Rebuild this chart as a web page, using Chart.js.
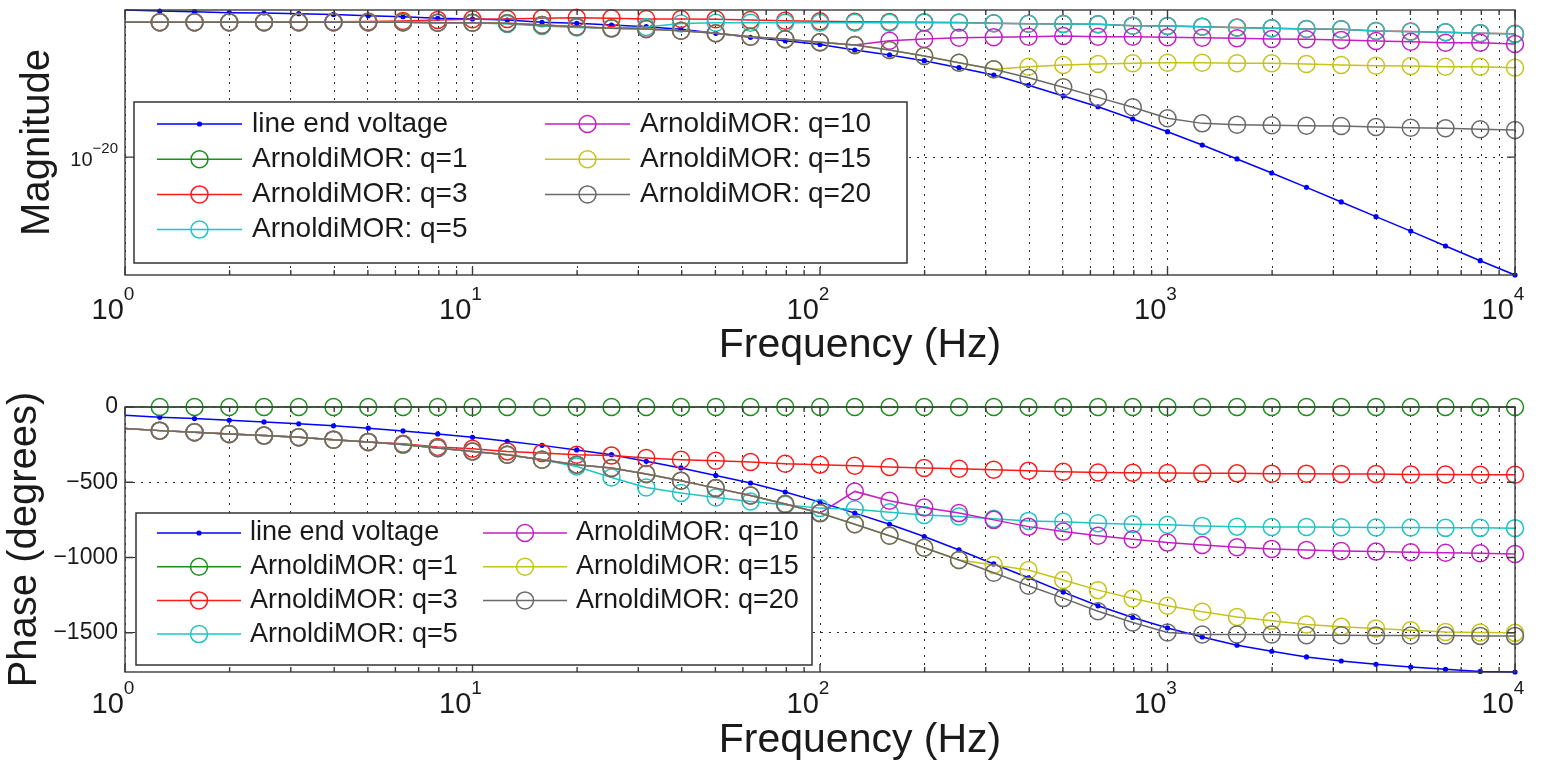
<!DOCTYPE html>
<html>
<head>
<meta charset="utf-8">
<script src="https://cdn.jsdelivr.net/npm/chart.js@4.4.1/dist/chart.umd.min.js"></script>
<style>
  html, body { margin: 0; padding: 0; background: #fff; }
  body { width: 1553px; height: 765px; position: relative; overflow: hidden; }
  .panel { position: absolute; left: 0; width: 1553px; }
  #magPanel { top: 0; height: 382px; }
  #phasePanel { top: 382px; height: 383px; }
</style>
</head>
<body>
<div class="panel" id="magPanel"><canvas id="magChart" width="1553" height="382"></canvas></div>
<div class="panel" id="phasePanel"><canvas id="phaseChart" width="1553" height="383"></canvas></div>
<script>
// frequency samples (Hz), 10 per decade
const freqs = [1, 1.259, 1.585, 1.995, 2.512, 3.162, 3.981, 5.012, 6.310, 7.943,
  10, 12.59, 15.85, 19.95, 25.12, 31.62, 39.81, 50.12, 63.10, 79.43,
  100, 125.9, 158.5, 199.5, 251.2, 316.2, 398.1, 501.2, 631.0, 794.3,
  1000, 1259, 1585, 1995, 2512, 3162, 3981, 5012, 6310, 7943, 10000];

const seriesNames = ['line end voltage', 'ArnoldiMOR: q=1', 'ArnoldiMOR: q=3', 'ArnoldiMOR: q=5',
  'ArnoldiMOR: q=10', 'ArnoldiMOR: q=15', 'ArnoldiMOR: q=20'];

// magnitude
const lineEndMag = [1.26e-9, 1.06e-9, 9.4e-10, 7.9e-10, 7.5e-10, 6.6e-10, 5.8e-10, 4.7e-10, 3.9e-10, 3.0e-10,
  2.64e-10, 2.21e-10, 1.49e-10, 1.25e-10, 9.3e-11, 6.9e-11, 4.4e-11, 2.2e-11, 1.10e-11, 6.1e-12,
  3.2e-12, 1.20e-12, 5.1e-13, 1.88e-13, 5.6e-14, 1.56e-14, 2.6e-15, 4.1e-16, 6.3e-17, 7.5e-18,
  8.2e-19, 8.1e-20, 7.2e-21, 6.3e-22, 5.2e-23, 4.1e-24, 3.2e-25, 2.6e-26, 1.95e-27, 1.51e-28, 1.26e-29];
// q=1 has no visible magnitude trace on this axis
const q1Mag = [null, null, null, null, null, null, null, null, null, null,
  null, null, null, null, null, null, null, null, null, null,
  null, null, null, null, null, null, null, null, null, null,
  null, null, null, null, null, null, null, null, null, null, null];
const q3Mag = [1.49e-10, 1.49e-10, 1.49e-10, 1.49e-10, 1.56e-10, 1.65e-10, 1.65e-10, 1.71e-10, 1.86e-10, 2.21e-10,
  2.5e-10, 2.64e-10, 3.0e-10, 3.3e-10, 3.0e-10, 2.64e-10, 2.64e-10, 2.5e-10, 2.21e-10, 1.96e-10,
  1.77e-10, 1.65e-10, 1.60e-10, 1.52e-10, 1.45e-10, 1.27e-10, 1.17e-10, 1.11e-10, 1.06e-10, 8.3e-11,
  7.9e-11, 7.0e-11, 5.9e-11, 5.3e-11, 4.7e-11, 4.5e-11, 3.3e-11, 2.95e-11, 2.65e-11, 2.25e-11, 2.0e-11];
const q5Mag = [1.49e-10, 1.49e-10, 1.49e-10, 1.49e-10, 1.49e-10, 1.49e-10, 1.49e-10, 1.49e-10, 1.49e-10, 1.39e-10,
  1.39e-10, 1.10e-10, 7.8e-11, 6.0e-11, 5.2e-11, 6.6e-11, 1.21e-10, 1.39e-10, 1.39e-10, 1.39e-10,
  1.39e-10, 1.39e-10, 1.39e-10, 1.39e-10, 1.39e-10, 1.25e-10, 1.16e-10, 1.10e-10, 1.05e-10, 8.2e-11,
  7.8e-11, 6.9e-11, 5.8e-11, 5.2e-11, 4.6e-11, 4.4e-11, 3.27e-11, 2.9e-11, 2.6e-11, 2.2e-11, 1.95e-11];
const q10Mag = [1.49e-10, 1.49e-10, 1.49e-10, 1.49e-10, 1.49e-10, 1.49e-10, 1.49e-10, 1.49e-10, 1.49e-10, 1.39e-10,
  1.39e-10, 1.25e-10, 9.3e-11, 6.9e-11, 5.2e-11, 4.6e-11, 3.45e-11, 2.2e-11, 1.22e-11, 7.7e-12,
  4.6e-12, 2.87e-12, 6.1e-12, 8.1e-12, 1.02e-11, 1.10e-11, 1.22e-11, 1.37e-11, 1.22e-11, 1.22e-11,
  1.10e-11, 1.02e-11, 9.2e-12, 8.1e-12, 7.7e-12, 6.9e-12, 5.8e-12, 5.1e-12, 4.3e-12, 4.3e-12, 3.4e-12];
const q15Mag = [1.49e-10, 1.49e-10, 1.49e-10, 1.49e-10, 1.49e-10, 1.49e-10, 1.49e-10, 1.49e-10, 1.49e-10, 1.39e-10,
  1.39e-10, 1.25e-10, 9.3e-11, 6.9e-11, 5.2e-11, 4.6e-11, 3.45e-11, 2.2e-11, 1.22e-11, 7.7e-12,
  4.6e-12, 2.87e-12, 1.20e-12, 4.2e-13, 1.33e-13, 4.2e-14, 6.6e-14, 8.9e-14, 1.06e-13, 1.19e-13,
  1.33e-13, 1.33e-13, 1.19e-13, 1.19e-13, 1.06e-13, 8.9e-14, 7.9e-14, 7.5e-14, 6.6e-14, 6.6e-14, 5.6e-14];
const q20Mag = [1.49e-10, 1.49e-10, 1.49e-10, 1.49e-10, 1.49e-10, 1.49e-10, 1.49e-10, 1.49e-10, 1.49e-10, 1.39e-10,
  1.39e-10, 1.25e-10, 9.3e-11, 6.9e-11, 5.2e-11, 4.6e-11, 3.45e-11, 2.2e-11, 1.22e-11, 7.7e-12,
  4.6e-12, 2.87e-12, 1.20e-12, 4.2e-13, 1.33e-13, 4.2e-14, 9.8e-15, 1.85e-15, 3.2e-16, 5.7e-17,
  8.4e-18, 3.5e-18, 2.8e-18, 2.5e-18, 2.33e-18, 2.21e-18, 1.86e-18, 1.65e-18, 1.49e-18, 1.25e-18, 1.10e-18];

// phase (degrees)
const lineEndPhase = [-55, -68, -77, -88, -99, -112, -125, -141, -159, -179,
  -201, -228, -255, -285, -317, -361, -405, -455, -505, -565,
  -632, -705, -779, -861, -950, -1043, -1135, -1230, -1321, -1399,
  -1468, -1528, -1583, -1623, -1661, -1688, -1710, -1728, -1743, -1757, -1761];
const q1Phase = [0, 0, 0, 0, 0, 0, 0, 0, 0, 0,
  0, 0, 0, 0, 0, 0, 0, 0, 0, 0,
  0, 0, 0, 0, 0, 0, 0, 0, 0, 0,
  0, 0, 0, 0, 0, 0, 0, 0, 0, 0, 0];
const q3Phase = [-143, -157, -168, -179, -190, -201, -217, -232, -245, -265,
  -277, -295, -305, -317, -323, -339, -350, -357, -365, -377,
  -383, -390, -399, -405, -410, -417, -423, -430, -435, -437,
  -439, -441, -441, -443, -443, -445, -445, -448, -448, -450, -450];
const q5Phase = [-143, -157, -168, -179, -190, -201, -217, -232, -250, -272,
  -295, -317, -350, -395, -468, -535, -572, -601, -628, -650,
  -672, -679, -699, -717, -728, -743, -757, -763, -772, -779,
  -783, -790, -795, -797, -797, -799, -801, -801, -803, -803, -805];
const q10Phase = [-143, -157, -168, -179, -190, -201, -217, -232, -250, -272,
  -295, -317, -350, -383, -405, -445, -490, -539, -588, -645,
  -705, -561, -623, -668, -705, -750, -795, -828, -855, -879,
  -901, -917, -932, -943, -950, -957, -961, -965, -968, -972, -977];
const q15Phase = [-143, -157, -168, -179, -190, -201, -217, -232, -250, -272,
  -295, -317, -350, -383, -405, -445, -490, -539, -588, -645,
  -705, -779, -855, -935, -1017, -1050, -1083, -1150, -1217, -1272,
  -1321, -1361, -1395, -1421, -1445, -1461, -1472, -1483, -1495, -1499, -1501];
const q20Phase = [-143, -157, -168, -179, -190, -201, -217, -232, -250, -272,
  -295, -317, -350, -383, -405, -445, -490, -539, -588, -645,
  -705, -779, -855, -935, -1017, -1101, -1188, -1270, -1357, -1432,
  -1499, -1512, -1512, -1512, -1517, -1517, -1519, -1519, -1519, -1521, -1521];

// ticks
const freqGrid = [1, 2, 3, 4, 5, 6, 7, 8, 9, 10, 20, 30, 40, 50, 60, 70, 80, 90,
  100, 200, 300, 400, 500, 600, 700, 800, 900, 1000, 2000, 3000, 4000, 5000, 6000, 7000, 8000, 9000, 10000];
const freqDecades = [1, 10, 100, 1000, 10000];
const freqTickExps = ['0', '1', '2', '3', '4'];
const magTicks = [1e-20];
const magTickExps = ['\u221220'];
const phaseTicks = [0, -500, -1000, -1500];

const colors = ['#0000ff', '#1a8f1a', '#ff1a1a', '#1fc4c4', '#c41fc4', '#c4c41a', '#6a6a6a'];
const FONT = '"Liberation Sans", Arial, Helvetica, sans-serif';
const INK = '#1a1a1a';

Chart.defaults.font.family = FONT;
Chart.defaults.color = INK;

function makeDatasets(sets) {
  return sets.map((vals, i) => ({
    label: seriesNames[i],
    data: freqs.map((f, j) => ({ x: f, y: vals[j] })),
    borderColor: colors[i],
    backgroundColor: colors[i],
    borderWidth: 1.5,
    tension: 0,
    clip: false,
    order: sets.length - 1 - i,
    pointRadius: c => c.dataIndex === 0 ? 0 : (i === 0 ? 2.6 : 8.5),
    pointHoverRadius: 0,
    pointBorderWidth: i === 0 ? 0 : 1.5,
    pointBorderColor: colors[i],
    pointBackgroundColor: i === 0 ? colors[0] : 'rgba(0,0,0,0)'
  }));
}

// box round the axes with inward tick marks, like MATLAB's "box on"
const axesBox = {
  id: 'axesBox',
  afterDatasetsDraw(chart) {
    const { ctx, chartArea: a, scales } = chart;
    ctx.save();
    ctx.strokeStyle = '#3a3a3a';
    ctx.lineWidth = 1.4;
    ctx.beginPath();
    scales.x.ticks.forEach(t => {
      const px = scales.x.getPixelForValue(t.value);
      const len = freqDecades.includes(t.value) ? 8 : 5;
      ctx.moveTo(px, a.bottom); ctx.lineTo(px, a.bottom - len);
      ctx.moveTo(px, a.top); ctx.lineTo(px, a.top + len);
    });
    scales.y.ticks.forEach(t => {
      const py = scales.y.getPixelForValue(t.value);
      ctx.moveTo(a.left, py); ctx.lineTo(a.left + 8, py);
      ctx.moveTo(a.right, py); ctx.lineTo(a.right - 8, py);
    });
    ctx.stroke();
    ctx.strokeRect(a.left, a.top, a.right - a.left, a.bottom - a.top);
    ctx.restore();
  }
};

// "10" with a raised exponent, as MATLAB prints log ticks
function drawPower(ctx, exp, x, baseline, o, align) {
  ctx.font = o.base + 'px ' + FONT;
  const wb = ctx.measureText('10').width;
  ctx.font = o.exp + 'px ' + FONT;
  const we = ctx.measureText(exp).width;
  const left = align === 'right' ? x - wb - we : x - (wb + we) / 2;
  ctx.font = o.base + 'px ' + FONT;
  ctx.fillText('10', left, baseline);
  ctx.font = o.exp + 'px ' + FONT;
  ctx.fillText(exp, left + wb, baseline - o.raise);
}

const powerLabels = {
  id: 'powerLabels',
  afterDraw(chart, args, o) {
    const ctx = chart.ctx;
    const { x, y } = chart.scales;
    ctx.save();
    ctx.fillStyle = INK;
    ctx.textAlign = 'left';
    ctx.textBaseline = 'alphabetic';
    freqDecades.forEach((v, k) => {
      drawPower(ctx, freqTickExps[k], x.getPixelForValue(v) + o.xShift, o.xBaseline, o.xFont, 'center');
    });
    if (o.yFont) {
      magTicks.forEach((v, k) => {
        drawPower(ctx, magTickExps[k], y.right - o.yPad, y.getPixelForValue(v) + o.yDrop, o.yFont, 'right');
      });
    }
    ctx.restore();
  }
};

const boxLegend = {
  id: 'boxLegend',
  afterDraw(chart, args, o) {
    const ctx = chart.ctx;
    ctx.save();
    ctx.fillStyle = '#fff';
    ctx.fillRect(o.x, o.y, o.w, o.h);
    ctx.strokeStyle = '#333';
    ctx.lineWidth = 1.5;
    ctx.strokeRect(o.x, o.y, o.w, o.h);
    ctx.font = o.fontSize + 'px ' + FONT;
    ctx.textBaseline = 'middle';
    chart.data.datasets.forEach((ds, i) => {
      const col = i < o.perColumn ? 0 : 1;
      const row = col === 0 ? i : i - o.perColumn;
      const x0 = o.columns[col];
      const y = o.firstRow + row * o.rowGap;
      ctx.strokeStyle = ds.borderColor;
      ctx.lineWidth = 1.5;
      ctx.beginPath();
      ctx.moveTo(x0, y);
      ctx.lineTo(x0 + o.sample, y);
      ctx.stroke();
      const mx = x0 + o.sample / 2;
      ctx.beginPath();
      if (i === 0) {
        ctx.fillStyle = ds.borderColor;
        ctx.arc(mx, y, 2.6, 0, Math.PI * 2);
        ctx.fill();
      } else {
        ctx.arc(mx, y, 8.5, 0, Math.PI * 2);
        ctx.stroke();
      }
      ctx.fillStyle = INK;
      ctx.fillText(ds.label, x0 + o.sample + o.textGap, y);
    });
    ctx.restore();
  }
};

const xTitle = {
  id: 'xTitle',
  afterDraw(chart, args, o) {
    const ctx = chart.ctx;
    ctx.save();
    ctx.font = o.size + 'px ' + FONT;
    ctx.fillStyle = INK;
    ctx.textAlign = 'center';
    ctx.textBaseline = 'middle';
    ctx.fillText(o.text, o.x, o.y);
    ctx.restore();
  }
};

const dotted = [2, 6];

function freqAxis(axisHeight) {
  return {
    type: 'logarithmic',
    min: 1,
    max: 10000,
    afterBuildTicks: s => { s.ticks = freqGrid.map(v => ({ value: v })); },
    afterFit: s => { s.height = axisHeight; s.paddingLeft = 0; s.paddingRight = 0; },
    grid: { color: '#2a2a2a', lineWidth: 1, drawTicks: false },
    border: { display: false, dash: dotted },
    ticks: { display: false, autoSkip: false }
  };
}

const magAll = [lineEndMag, q1Mag, q3Mag, q5Mag, q10Mag, q15Mag, q20Mag];
const magVals = magAll.flat().filter(v => v !== null);
const phaseAll = [lineEndPhase, q1Phase, q3Phase, q5Phase, q10Phase, q15Phase, q20Phase];
const phaseVals = phaseAll.flat();

const xFont = { base: 29, exp: 19, raise: 19 };

new Chart(document.getElementById('magChart'), {
  type: 'line',
  data: { datasets: makeDatasets(magAll) },
  options: {
    responsive: false,
    animation: false,
    devicePixelRatio: 1,
    layout: { padding: { left: 0, right: 38, top: 10, bottom: 0 } },
    scales: {
      x: freqAxis(107),
      y: {
        type: 'logarithmic',
        min: Math.min(...magVals),
        max: Math.max(...magVals),
        afterBuildTicks: s => { s.ticks = magTicks.map(v => ({ value: v })); },
        afterFit: s => { s.width = 125; s.paddingTop = 0; s.paddingBottom = 0; },
        grid: { color: '#2a2a2a', lineWidth: 1, drawTicks: false },
        border: { display: false, dash: dotted },
        ticks: { display: false },
        title: { display: true, text: 'Magnitude', color: INK, font: { size: 40 }, padding: { top: 14, bottom: 0 } }
      }
    },
    plugins: {
      legend: { display: false },
      tooltip: { enabled: false },
      powerLabels: { xShift: -12, xBaseline: 319, xFont, yPad: 7, yDrop: 8.5, yFont: { base: 20, exp: 15, raise: 13 } },
      boxLegend: { x: 134, y: 102, w: 773, h: 161, perColumn: 4, columns: [157, 545], firstRow: 124, rowGap: 35.2, sample: 85, textGap: 10, fontSize: 28 },
      xTitle: { text: 'Frequency (Hz)', x: 860, y: 346, size: 41 }
    }
  },
  plugins: [axesBox, powerLabels, boxLegend, xTitle]
});

new Chart(document.getElementById('phaseChart'), {
  type: 'line',
  data: { datasets: makeDatasets(phaseAll) },
  options: {
    responsive: false,
    animation: false,
    devicePixelRatio: 1,
    layout: { padding: { left: 0, right: 38, top: 25, bottom: 0 } },
    scales: {
      x: freqAxis(93),
      y: {
        type: 'linear',
        min: Math.min(...phaseVals),
        max: Math.max(...phaseVals),
        afterBuildTicks: s => { s.ticks = phaseTicks.map(v => ({ value: v })); },
        afterFit: s => { s.width = 125; s.paddingTop = 0; s.paddingBottom = 0; },
        grid: { color: '#2a2a2a', lineWidth: 1, drawTicks: false },
        border: { display: false, dash: dotted },
        ticks: {
          padding: 7,
          color: INK,
          font: { size: 23 },
          callback: v => v === 0 ? '0' : '\u2212' + Math.abs(v)
        },
        title: { display: true, text: 'Phase (degrees)', color: INK, font: { size: 40 }, padding: { top: 1, bottom: 0 } }
      }
    },
    plugins: {
      legend: { display: false },
      tooltip: { enabled: false },
      powerLabels: { xShift: -12, xBaseline: 331, xFont },
      boxLegend: { x: 136, y: 131, w: 676, h: 152, perColumn: 4, columns: [157, 483], firstRow: 151, rowGap: 33.7, sample: 84, textGap: 9, fontSize: 27 },
      xTitle: { text: 'Frequency (Hz)', x: 860, y: 359, size: 41 }
    }
  },
  plugins: [axesBox, powerLabels, boxLegend, xTitle]
});
</script>
</body>
</html>
